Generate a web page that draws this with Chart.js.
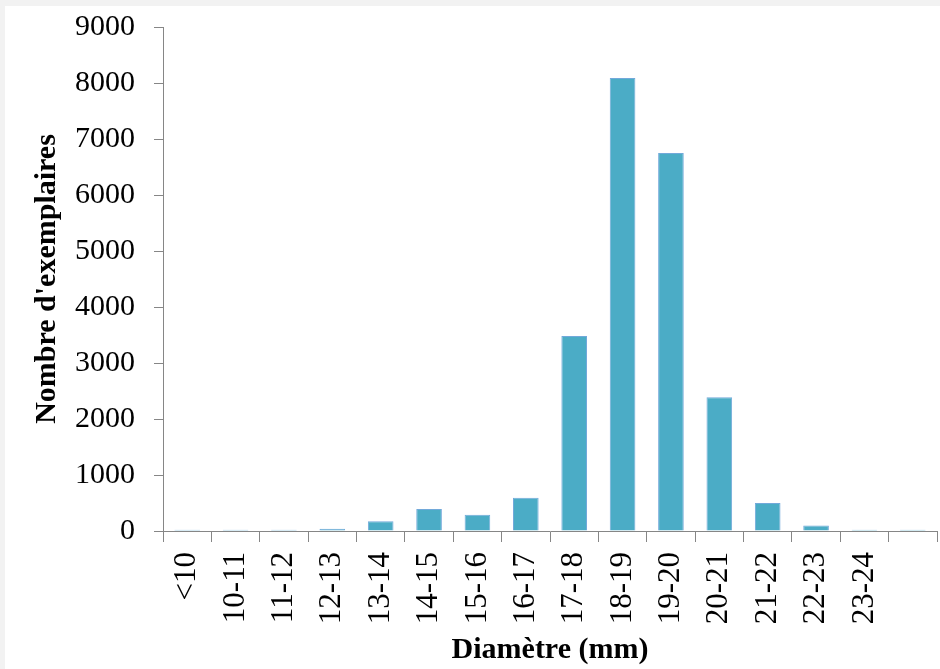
<!DOCTYPE html>
<html><head><meta charset="utf-8">
<script src="https://cdn.jsdelivr.net/npm/chart.js@4"></script>
<style>
html,body{margin:0;padding:0;background:#f2f2f2;width:940px;height:669px;overflow:hidden}
#box{position:absolute;left:5px;top:6px;width:935px;height:663px;background:#fff}
canvas{display:block}
</style></head><body><div id="box"><canvas id="c" width="935" height="663"></canvas></div>
<script>
const categories = ['<10','10-11','11-12','12-13','13-14','14-15','15-16','16-17','17-18','18-19','19-20','20-21','21-22','22-23','23-24',''];
const counts = [22, 22, 22, 40, 173, 393, 292, 595, 3480, 8090, 6750, 2390, 500, 100, 24, 24];
const yTickLabels = ['0','1000','2000','3000','4000','5000','6000','7000','8000','9000'];
const xTitle = 'Diamètre (mm)';
const yTitle = "Nombre d'exemplaires";

const FONT = 'Liberation Serif';
new Chart(document.getElementById('c'), {
  type: 'bar',
  data: {
    labels: categories,
    datasets: [{
      data: counts,
      backgroundColor: '#4bacc6',
      borderColor: '#72a9da',
      borderWidth: 1,
      barPercentage: 0.53,
      categoryPercentage: 1
    }]
  },
  options: {
    responsive: false,
    animation: false,
    devicePixelRatio: 1,
    layout: { padding: { top: 21, right: 3, left: 0, bottom: 0 } },
    plugins: { legend: { display: false }, tooltip: { enabled: false } },
    scales: {
      x: {
        grid: { display: true, drawOnChartArea: false, drawTicks: true, tickLength: 11, color: '#868686', offset: true },
        border: { color: '#868686' },
        ticks: { minRotation: 90, maxRotation: 90, autoSkip: false, padding: 10, color: '#000', font: { family: FONT, size: 31 } },
        title: { display: true, text: xTitle, color: '#000', font: { family: FONT, size: 30, weight: 'bold' }, padding: { top: 0, bottom: 1 } },
        afterFit(s) { s.height = 138; s.paddingLeft = 0; s.paddingRight = 0; }
      },
      y: {
        min: 0, max: 9000,
        grid: { drawOnChartArea: false, drawTicks: true, tickLength: 9, color: '#868686' },
        border: { color: '#868686' },
        ticks: { stepSize: 1000, padding: 19, color: '#000', font: { family: FONT, size: 30 },
                 callback: (v, i) => yTickLabels[i] },
        title: { display: true, text: yTitle, color: '#000', font: { family: FONT, size: 30, weight: 'bold' }, padding: { top: 24, bottom: 0 } },
        afterFit(s) { s.width = 158; s.paddingTop = 0; s.paddingBottom = 0; }
      }
    }
  }
});
</script></body></html>
